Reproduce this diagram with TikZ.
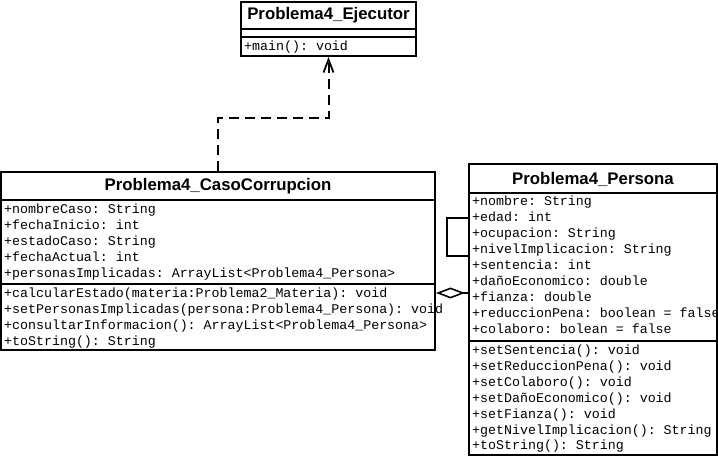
\documentclass[tikz,border=0pt]{standalone}
\usepackage{fontspec}
\setsansfont{Liberation Sans}
\setmonofont{Liberation Mono}
\usetikzlibrary{arrows.meta}
\newcommand\memberfont{\ttfamily\fontsize{13.3}{16}\selectfont}
\newcommand\classtitlefont{\sffamily\bfseries\fontsize{16.8}{19}\selectfont}
\tikzset{
  classbox/.style={draw, line width=2pt, fill=white, inner sep=0pt},
  divider/.style={line width=2pt},
  ctitle/.style={font=\classtitlefont, inner sep=0pt},
  member/.style={anchor=base west, inner sep=0pt, font=\memberfont},
  link/.style={line width=2pt},
  depends/.style={link, dash pattern=on 10pt off 6pt, -{Straight Barb[length=13pt,width=10pt,line width=1.8pt]}},
}
\begin{document}
\begin{tikzpicture}[x=1pt,y=-1pt]
\useasboundingbox (0,0) rectangle (718,457);

% ---- class boxes ----
\node[classbox, minimum width=175pt, minimum height=54pt] (ejec) at (328.5,29) {};
\node[classbox, minimum width=434pt, minimum height=178pt] (caso) at (218,261) {};
\node[classbox, minimum width=248pt, minimum height=291pt] (pers) at (593,309.5) {};

% ---- Problema4_Ejecutor ----
\node[ctitle] (ejec-t) at (328.5,15.5) {Problema4\_Ejecutor};
\draw[divider] (ejec.west |- 0,29) -- (ejec.east |- 0,29);
\draw[divider] (ejec.west |- 0,37) -- (ejec.east |- 0,37);
\node[member] (ejec-m1) at (244,50.5) {+main(): void};

% ---- Problema4_CasoCorrupcion ----
\node[ctitle] (caso-t) at (218,186.5) {Problema4\_CasoCorrupcion};
\draw[divider] (caso.west |- 0,200) -- (caso.east |- 0,200);
\draw[divider] (caso.west |- 0,284) -- (caso.east |- 0,284);
\foreach \txt [count=\i from 0] in {
  {+nombreCaso: String},
  {+fechaInicio: int},
  {+estadoCaso: String},
  {+fechaActual: int},
  {+personasImplicadas: ArrayList<Problema4\_Persona>}}
  \node[member] (caso-a\i) at (4,213.5+15.9*\i) {\txt};
\foreach \txt [count=\i from 0] in {
  {+calcularEstado(materia:Problema2\_Materia): void},
  {+setPersonasImplicadas(persona:Problema4\_Persona): void},
  {+consultarInformacion(): ArrayList<Problema4\_Persona>},
  {+toString(): String}}
  \node[member] (caso-m\i) at (4,297.5+16*\i) {\txt};

% ---- Problema4_Persona ----
\node[ctitle] (pers-t) at (593,179) {Problema4\_Persona};
\draw[divider] (pers.west |- 0,193) -- (pers.east |- 0,193);
\draw[divider] (pers.west |- 0,341) -- (pers.east |- 0,341);
\foreach \txt [count=\i from 0] in {
  {+nombre: String},
  {+edad: int},
  {+ocupacion: String},
  {+nivelImplicacion: String},
  {+sentencia: int},
  {+dañoEconomico: double},
  {+fianza: double},
  {+reduccionPena: boolean = false},
  {+colaboro: bolean = false}}
  \node[member] (pers-a\i) at (472,205.5+16*\i) {\txt};
\foreach \txt [count=\i from 0] in {
  {+setSentencia(): void},
  {+setReduccionPena(): void},
  {+setColaboro(): void},
  {+setDañoEconomico(): void},
  {+setFianza(): void},
  {+getNivelImplicacion(): String},
  {+toString(): String}}
  \node[member] (pers-m\i) at (472,354.5+15.9*\i) {\txt};

% ---- connectors ----
% dependency: CasoCorrupcion uses Ejecutor
\coordinate (bend) at (0,118);
\draw[depends] (caso.north) -- (caso.north |- bend) -| (ejec.south);

% aggregation: CasoCorrupcion holds Persona objects
\coordinate (aggy) at (0,293);
\draw[link, {Diamond[open,length=29pt,width=11pt,line width=1.6pt]}-] (caso.east |- aggy) -- (pers.west |- aggy);

% self association on Persona
\coordinate (loopa) at (0,218);
\coordinate (loopb) at (0,256);
\draw[link] (pers.west |- loopa) -- ++(-21,0) |- (pers.west |- loopb);
\end{tikzpicture}
\end{document}
